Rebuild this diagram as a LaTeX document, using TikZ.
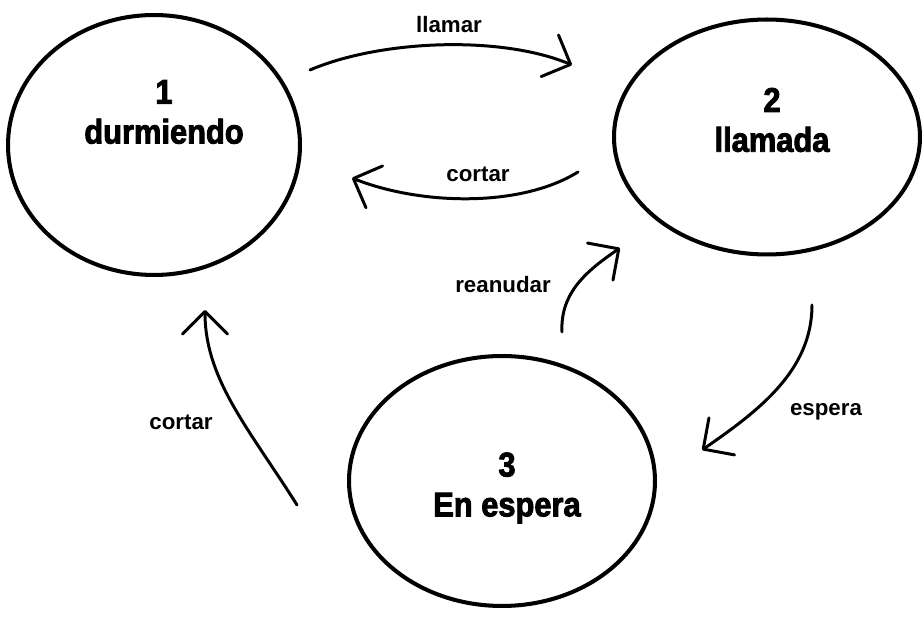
\documentclass[tikz,border=0pt]{standalone}
\usepackage{fontspec}
\setmainfont{Liberation Sans}
\newfontfamily\statefont{Liberation Sans}[FakeBold=2.5,FakeStretch=0.9]
\usetikzlibrary{arrows.meta,shapes.geometric}

\begin{document}
\begin{tikzpicture}[x=0.02cm,y=-0.02cm]
	\tikzset{vertex/.style = {shape=ellipse,draw,line width=2.3pt,inner sep=0pt}}
	\tikzset{statetext/.style = {align=center,
			font=\statefont\bfseries\fontsize{19.5}{22.7}\selectfont}}
	\tikzset{edge/.style = {->,> = {Straight Barb[round,length=4.5mm,width=9mm]},
			line width=1.7pt,line cap=round}}
	\tikzset{tag/.style = {anchor=base,font=\bfseries\fontsize{12.7}{15}\selectfont}}
	\useasboundingbox (0,0) rectangle (924,617);
    % states
    \node[vertex,minimum width=5.84cm,minimum height=5.2cm] (durm) at (154,145) {};
    \node[vertex,minimum width=6.12cm,minimum height=4.7cm] (llam) at (767,137) {};
    \node[vertex,minimum width=6.12cm,minimum height=5cm] (esp) at (502,481) {};
    \node[statetext] (tdurm) at (164,112) {1\\durmiendo};
    \node[statetext] (tllam) at (772,120) {2\\llamada};
    \node[statetext] (tesp) at (507,488) {3\\En espera};
    % free ends
    \coordinate (s1) at (310,70);   \coordinate (e1) at (572,65);
    \coordinate (s2) at (578,172);  \coordinate (e2) at (352,178);
    \coordinate (s3) at (562,332);  \coordinate (e3) at (620,248);
    \coordinate (s4) at (812,305);  \coordinate (e4) at (702,450);
    \coordinate (s5) at (297,505);  \coordinate (e5) at (205,310);
    %edges
    \draw[edge] (s1) .. controls (380,40) and (500,35) .. (e1);
    \draw[edge] (s2) .. controls (520,208) and (420,205) .. (e2);
    \draw[edge] (s3) .. controls (560,292) and (588,270) .. (e3);
    \draw[edge] (s4) .. controls (812,370) and (760,410) .. (e4);
    \draw[edge] (s5) .. controls (250,430) and (205,380) .. (e5);
    \node[tag] (llamar) at (449,33) {llamar};
    \node[tag] (cortar1) at (478,182) {cortar};
    \node[tag] (reanudar) at (503,293) {reanudar};
    \node[tag] (espera) at (826,416) {espera};
    \node[tag] (cortar2) at (181,430) {cortar};
\end{tikzpicture}
\end{document}
